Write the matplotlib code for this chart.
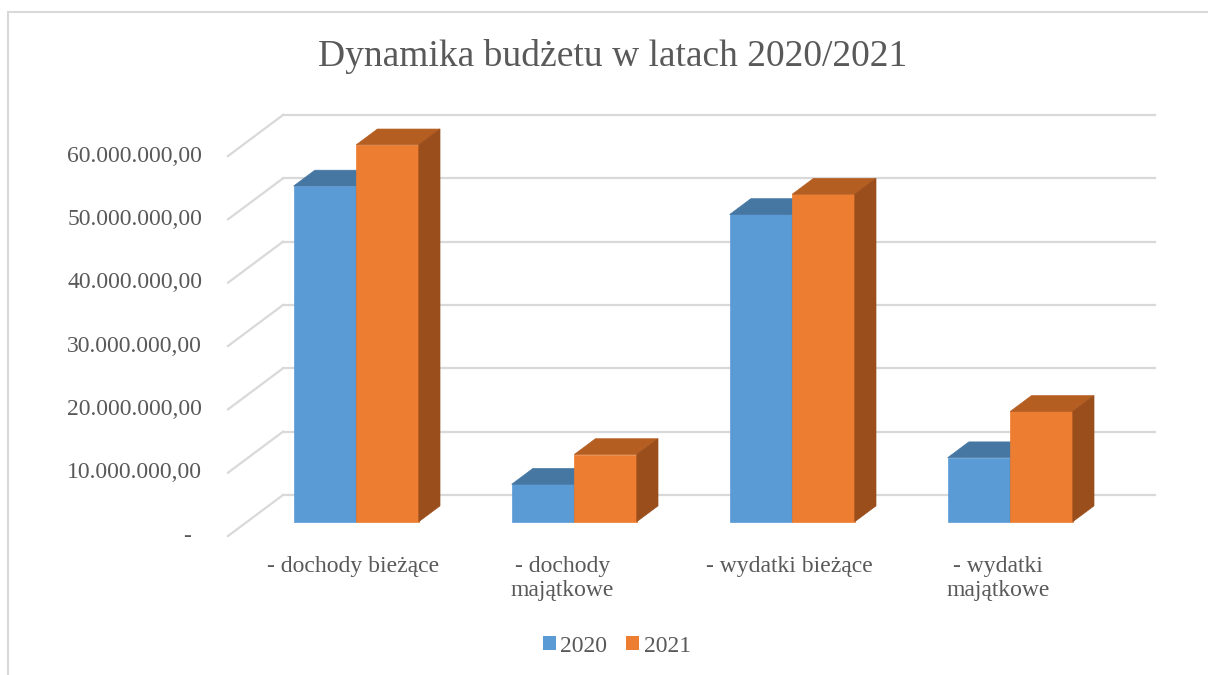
import matplotlib.pyplot as plt
from matplotlib.patches import Polygon, Patch, Rectangle

plt.rcParams["font.family"] = "Liberation Serif"

categories = ["- dochody bieżące", "- dochody\nmajątkowe", "- wydatki bieżące", "- wydatki\nmajątkowe"]
series = ["2020", "2021"]
vals_2020 = [53.0e6, 5.9e6, 48.5e6, 10.1e6]
vals_2021 = [59.5e6, 10.6e6, 51.7e6, 17.4e6]
yticks = [0, 10e6, 20e6, 30e6, 40e6, 50e6, 60e6]

front_cols = ["#5B9BD5", "#ED7D31"]
top_cols = ["#4677A3", "#B55E22"]
side_cols = ["#41709B", "#9A4E1C"]
grid_col = "#D9D9D9"
txt_col = "#595959"

# oblique depth: z=0 back wall, z=1 front edge of the floor
DX = -55 / 218.0
DY = -41 / 63.3 * 10e6
Z_FRONT = 0.65
Z_BACK = 0.265
BAR_W = 0.287


def proj(x, y, z):
    return (x + DX * z, y + DY * z)


def fmt(v):
    if v == 0:
        return "-"
    s = f"{v:,.2f}"
    return s.replace(",", "X").replace(".", ",").replace("X", ".")


fig = plt.figure(figsize=(12.08, 6.75), dpi=100)
W, H = 1208, 675
ax = fig.add_axes([283 / W, 1 - 495 / H, (1155 - 283) / W, (495 - 115) / H])
ax.set_xlim(0, len(categories))
ax.set_ylim(0, 60e6)
ax.axis("off")

# back wall gridlines and side wall diagonals
for v in yticks:
    ax.plot([0, len(categories)], [v, v], color=grid_col, lw=1.6, zorder=1, clip_on=False)
    p0 = proj(0, v, 0)
    p1 = proj(0, v, 1)
    ax.plot([p0[0], p1[0]], [p0[1], p1[1]], color=grid_col, lw=1.6, zorder=1, clip_on=False)
    ax.annotate(fmt(v), xy=p1, xytext=(-26 if v else -37, 0), textcoords="offset pixels",
                ha="right", va="center", fontsize=17, color=txt_col, annotation_clip=False)


def draw_bar(x0, x1, h, j, z):
    def poly(pts, col):
        ax.add_patch(Polygon([proj(*p) for p in pts], closed=True, facecolor=col,
                             edgecolor=col, lw=0.5, zorder=z, clip_on=False))
    poly([(x0, 0, Z_FRONT), (x1, 0, Z_FRONT), (x1, h, Z_FRONT), (x0, h, Z_FRONT)], front_cols[j])
    poly([(x0, h, Z_FRONT), (x1, h, Z_FRONT), (x1, h, Z_BACK), (x0, h, Z_BACK)], top_cols[j])
    poly([(x1, 0, Z_FRONT), (x1, 0, Z_BACK), (x1, h, Z_BACK), (x1, h, Z_FRONT)], side_cols[j])


for i, cat in enumerate(categories):
    c = i + 0.5
    for j, vals in enumerate([vals_2020, vals_2021]):
        x0 = c - BAR_W + j * BAR_W
        draw_bar(x0, x0 + BAR_W, vals[i], j, 3 + j)
    dx = -3 if "\n" not in cat else -12
    ax.annotate(cat, xy=proj(c, 0, Z_FRONT), xytext=(dx, -34), textcoords="offset pixels",
                ha="center", va="top", fontsize=17, color=txt_col, linespacing=1.2,
                annotation_clip=False)

fig.text(0.507, 1 - 57 / H, "Dynamika budżetu w latach 2020/2021", ha="center", va="center",
         fontsize=27, color=txt_col)

handles = [Patch(facecolor=front_cols[k], edgecolor="none", label=s) for k, s in enumerate(series)]
fig.legend(handles=handles, loc="center", bbox_to_anchor=(617 / W, 1 - 646 / H), ncol=2,
           frameon=False, fontsize=17, handlelength=0.55, handleheight=0.55, handletextpad=0.2,
           columnspacing=0.8, labelcolor=txt_col)

fig.patches.append(Rectangle((8 / W, -0.1), 1.2, 1.1 - 12 / H, transform=fig.transFigure,
                             fill=False, edgecolor=grid_col, lw=1.5))

fig.savefig("out.png", dpi=100)
